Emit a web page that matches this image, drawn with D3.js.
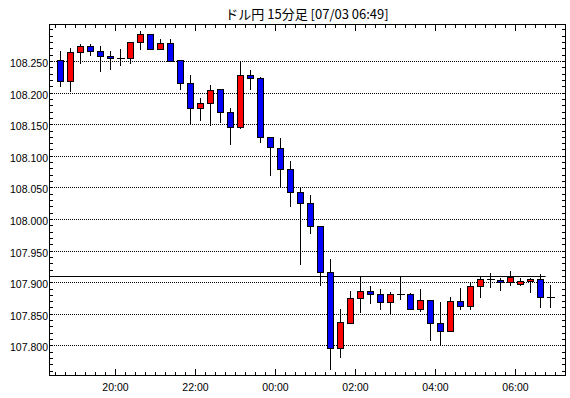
<!DOCTYPE html>
<html>
<head>
<meta charset="utf-8">
<script src="https://cdn.jsdelivr.net/npm/d3@7"></script>
<style>
body { margin: 0; background: #fff; }
</style>
</head>
<body>
<svg id="chart" width="570" height="398"></svg>
<script>
// Chart data (USD/JPY, 15 minute bars)
var title = "ドル円 15分足 [07/03 06:49]";
var times = ["18:30", "18:45", "19:00", "19:15", "19:30", "19:45", "20:00", "20:15", "20:30", "20:45",
    "21:00", "21:15", "21:30", "21:45", "22:00", "22:15", "22:30", "22:45", "23:00", "23:15",
    "23:30", "23:45", "00:00", "00:15", "00:30", "00:45", "01:00", "01:15", "01:30", "01:45",
    "02:00", "02:15", "02:30", "02:45", "03:00", "03:15", "03:30", "03:45", "04:00", "04:15",
    "04:30", "04:45", "05:00", "05:15", "05:30", "05:45", "06:00", "06:15", "06:30", "06:45"];
var opens = [108.252, 108.218, 108.264, 108.274, 108.266, 108.258, 108.255, 108.255, 108.280, 108.293,
    108.269, 108.279, 108.252, 108.215, 108.176, 108.184, 108.206, 108.169, 108.146, 108.228,
    108.223, 108.130, 108.112, 108.079, 108.043, 108.025, 107.989, 107.916, 107.796, 107.836,
    107.875, 107.886, 107.881, 107.869, 107.881, 107.881, 107.858, 107.872, 107.835, 107.823,
    107.870, 107.862, 107.894, 107.905, 107.904, 107.900, 107.897, 107.902, 107.905, 107.877];
var highs = [108.266, 108.271, 108.277, 108.277, 108.274, 108.266, 108.269, 108.280, 108.298, 108.294,
    108.286, 108.286, 108.253, 108.228, 108.193, 108.213, 108.206, 108.177, 108.250, 108.237,
    108.225, 108.131, 108.129, 108.092, 108.051, 108.038, 107.989, 107.938, 107.858, 107.887,
    107.911, 107.895, 107.890, 107.885, 107.911, 107.883, 107.890, 107.873, 107.869, 107.877,
    107.892, 107.900, 107.911, 107.916, 107.908, 107.918, 107.908, 107.907, 107.913, 107.897];
var lows = [108.211, 108.204, 108.248, 108.260, 108.235, 108.238, 108.245, 108.248, 108.269, 108.269,
    108.269, 108.250, 108.207, 108.153, 108.157, 108.150, 108.154, 108.119, 108.144, 108.207,
    108.122, 108.071, 108.051, 108.021, 107.930, 107.979, 107.897, 107.764, 107.782, 107.836,
    107.854, 107.868, 107.859, 107.851, 107.875, 107.858, 107.856, 107.809, 107.801, 107.823,
    107.859, 107.859, 107.878, 107.894, 107.888, 107.896, 107.897, 107.885, 107.861, 107.862];
var closes = [108.218, 108.264, 108.274, 108.265, 108.258, 108.255, 108.255, 108.280, 108.293, 108.269,
    108.279, 108.250, 108.215, 108.176, 108.184, 108.204, 108.169, 108.146, 108.228, 108.223,
    108.130, 108.114, 108.079, 108.043, 108.025, 107.989, 107.916, 107.796, 107.837, 107.875,
    107.886, 107.881, 107.869, 107.881, 107.881, 107.858, 107.872, 107.835, 107.823, 107.870,
    107.862, 107.894, 107.905, 107.904, 107.900, 107.909, 107.902, 107.905, 107.877, 107.877];
var refPrice = 107.910;
var refUntil = "06:45";
var yLabels = [107.80, 107.85, 107.90, 107.95, 108.00, 108.05, 108.10, 108.15, 108.20, 108.25];
var xStart = "18:20", xEnd = "07:14";

// Layout
var plotLeft = 49, plotRight = 565, plotTop = 24, plotBottom = 375;
var upColor = "#ff0000", downColor = "#0000ff";
var axisFont = "'Liberation Sans', Arial, sans-serif";

var svg = d3.select("#chart");

function toDate(s) {
    var p = s.split(":");
    var h = +p[0], m = +p[1];
    // bars before noon belong to the next day
    return new Date(2019, 6, h < 12 ? 3 : 2, h, m);
}
function px(v) { return Math.floor(v) + 0.5; }

var x = d3.scaleTime()
    .domain([toDate(xStart), toDate(xEnd)])
    .range([plotLeft, plotRight]);
var y = d3.scaleLinear()
    .domain([107.7532, 108.3085])
    .range([plotBottom + 0.5, plotTop + 0.5]);

var bars = times.map(function (t, i) {
    return { t: toDate(t), o: opens[i], h: highs[i], l: lows[i], c: closes[i] };
});

// Title
svg.append("text")
    .attr("x", (plotLeft + plotRight) / 2)
    .attr("y", 18.5)
    .attr("text-anchor", "middle")
    .attr("font-family", "'Noto Sans CJK JP', sans-serif")
    .attr("font-size", "13px")
    .attr("fill", "#000")
    .text(title);

// Dotted grid lines
svg.selectAll(".grid")
    .data(yLabels)
    .enter()
    .append("line")
    .attr("class", "grid")
    .attr("x1", plotLeft + 1)
    .attr("x2", plotRight)
    .attr("y1", function (d) { return px(y(d)); })
    .attr("y2", function (d) { return px(y(d)); })
    .attr("stroke", "#000")
    .attr("stroke-width", 1)
    .attr("stroke-dasharray", "1,1");

// Reference price line
svg.append("line")
    .attr("x1", plotLeft)
    .attr("x2", x(toDate(refUntil)))
    .attr("y1", px(y(refPrice)))
    .attr("y2", px(y(refPrice)))
    .attr("stroke", "#000")
    .attr("stroke-width", 1);

// Candles
var halfBar = 7.5 * 60 * 1000;
var candle = svg.selectAll(".candle")
    .data(bars)
    .enter()
    .append("g")
    .attr("class", "candle");

candle.append("line")
    .attr("x1", function (d) { return px(x(new Date(+d.t + halfBar))); })
    .attr("x2", function (d) { return px(x(new Date(+d.t + halfBar))); })
    .attr("y1", function (d) { return Math.round(y(d.h)); })
    .attr("y2", function (d) { return Math.round(y(d.l)) + 1; })
    .attr("stroke", "#000")
    .attr("stroke-width", 1);

candle.filter(function (d) { return Math.round(y(d.o)) !== Math.round(y(d.c)); })
    .append("rect")
    .attr("x", function (d) { return px(x(new Date(+d.t + halfBar))) - 3; })
    .attr("width", 6)
    .attr("y", function (d) { return px(y(Math.max(d.o, d.c))); })
    .attr("height", function (d) {
        return Math.max(1, px(y(Math.min(d.o, d.c))) - px(y(Math.max(d.o, d.c))));
    })
    .attr("fill", function (d) { return d.c > d.o ? upColor : downColor; })
    .attr("stroke", "#000")
    .attr("stroke-width", 1);

// doji: open equals close
candle.filter(function (d) { return Math.round(y(d.o)) === Math.round(y(d.c)); })
    .append("line")
    .attr("x1", function (d) { return px(x(new Date(+d.t + halfBar))) - 3.5; })
    .attr("x2", function (d) { return px(x(new Date(+d.t + halfBar))) + 4.5; })
    .attr("y1", function (d) { return px(y(d.o)); })
    .attr("y2", function (d) { return px(y(d.o)); })
    .attr("stroke", "#000")
    .attr("stroke-width", 1);

// Frame
svg.append("rect")
    .attr("x", plotLeft + 0.5)
    .attr("y", plotTop + 0.5)
    .attr("width", plotRight - plotLeft)
    .attr("height", plotBottom - plotTop)
    .attr("fill", "none")
    .attr("stroke", "#000")
    .attr("stroke-width", 1);

// Y ticks, every 0.01, inside on both sides
var yMinor = d3.ticks(y.domain()[0], y.domain()[1], 56);
var tickG = svg.append("g")
    .attr("stroke", "#000")
    .attr("stroke-width", 1)
    .attr("shape-rendering", "crispEdges");
yMinor.forEach(function (v) {
    var yy = px(y(v));
    tickG.append("line").attr("x1", plotLeft).attr("x2", plotLeft + 4).attr("y1", yy).attr("y2", yy);
    tickG.append("line").attr("x1", plotRight - 3).attr("x2", plotRight + 1).attr("y1", yy).attr("y2", yy);
});

// X ticks, every 15 minutes, longer every 2 hours
var xMinor = x.ticks(d3.timeMinute.every(15));
var xMajor = x.ticks(d3.timeHour.every(2));
xMinor.forEach(function (t) {
    var xx = px(x(t));
    var len = t.getMinutes() === 0 && t.getHours() % 2 === 0 ? 7 : 4;
    tickG.append("line").attr("x1", xx).attr("x2", xx).attr("y1", plotBottom + 1).attr("y2", plotBottom + 1 - len);
    tickG.append("line").attr("x1", xx).attr("x2", xx).attr("y1", plotTop).attr("y2", plotTop + len);
});

// Axis labels
svg.selectAll(".ylabel")
    .data(yLabels)
    .enter()
    .append("text")
    .attr("class", "ylabel")
    .attr("x", plotLeft - 1)
    .attr("y", function (d) { return px(y(d)) + 5.5; })
    .attr("text-anchor", "end")
    .attr("font-family", axisFont)
    .attr("font-size", "10.5px")
    .attr("fill", "#000")
    .text(function (d) { return d3.format(".3f")(d); });

svg.selectAll(".xlabel")
    .data(xMajor)
    .enter()
    .append("text")
    .attr("class", "xlabel")
    .attr("x", function (d) { return px(x(d)); })
    .attr("y", 390.5)
    .attr("text-anchor", "middle")
    .attr("font-family", axisFont)
    .attr("font-size", "10.5px")
    .attr("fill", "#000")
    .text(d3.timeFormat("%H:%M"));
</script>
</body>
</html>
